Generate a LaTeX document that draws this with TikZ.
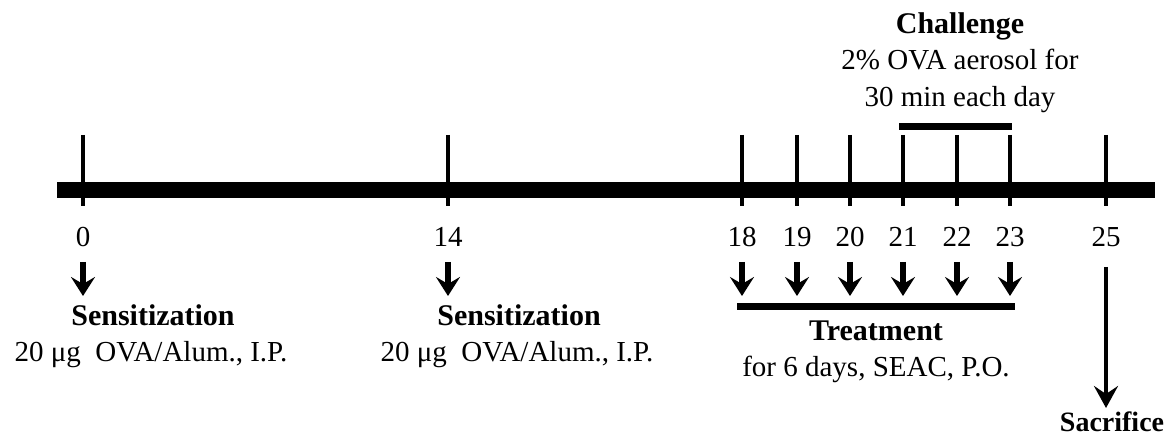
\documentclass[tikz,border=0pt]{standalone}
\usepackage{fontspec}
\setmainfont{Liberation Serif}
\usetikzlibrary{arrows.meta}
\begin{document}
\begin{tikzpicture}[x=1pt,y=-1pt,
  lbl/.style={inner sep=0pt,anchor=base,font=\fontsize{29}{34}\selectfont},
  blbl/.style={inner sep=0pt,anchor=base,font=\fontsize{30}{34}\selectfont\bfseries},
  tick/.style={line width=4pt},
  mainbar/.style={line width=16pt},
  spanbar/.style={line width=7pt},
  darrow/.style={line width=5.5pt,-{Stealth[length=19pt,width=24pt,inset=7pt]}},
  sarrow/.style={line width=4.5pt,-{Stealth[length=22pt,width=24pt,inset=8pt]}}]
\useasboundingbox (0,0) rectangle (1172,438);
% main bar
\coordinate (barL) at (57,190);
\coordinate (barR) at (1155,190);
\draw[mainbar] (barL) -- (barR);
% ticks and numbers
\foreach \n/\x in {0/83,14/448,18/742,19/797,20/850,21/903,22/957,23/1010,25/1106}{
  \coordinate (t\n top) at (\x,135);
  \coordinate (t\n bot) at (\x,206);
  \draw[tick] (t\n top) -- (t\n bot);
  \node[lbl] (n\n) at (\x,247) {\n};
}
% small arrows
\foreach \n/\x in {0/83,14/448,18/742,19/797,20/850,21/903,22/957,23/1010}{
  \coordinate (a\n s) at (\x,262);
  \coordinate (a\n e) at (\x,296);
  \draw[darrow] (a\n s) -- (a\n e);
}
% challenge
\coordinate (chL) at (899,127);
\coordinate (chR) at (1012,127);
\draw[spanbar] (chL) -- (chR);
\node[blbl] (chal) at (960,34) {Challenge};
\node[lbl] (chal2) at (960,70) {2\% OVA aerosol for};
\node[lbl] (chal3) at (960,107) {30 min each day};
% treatment
\coordinate (trL) at (737,306);
\coordinate (trR) at (1015,306);
\draw[spanbar] (trL) -- (trR);
\node[blbl] (treat) at (876,340) {Treatment};
\node[lbl] (treat2) at (876,376) {for 6 days, SEAC, P.O.};
% sensitization
\node[blbl] (sens1) at (153,325) {Sensitization};
\node[lbl] (sens1b) at (151,361) {20 μg\ \ OVA/Alum., I.P.};
\node[blbl] (sens2) at (519,325) {Sensitization};
\node[lbl] (sens2b) at (517,361) {20 μg\ \ OVA/Alum., I.P.};
% sacrifice
\coordinate (sacS) at (1106,267);
\coordinate (sacE) at (1106,408);
\draw[sarrow] (sacS) -- (sacE);
\node[blbl,font=\fontsize{28}{34}\selectfont\bfseries] (sac) at (1112,431) {Sacrifice};
\end{tikzpicture}
\end{document}
